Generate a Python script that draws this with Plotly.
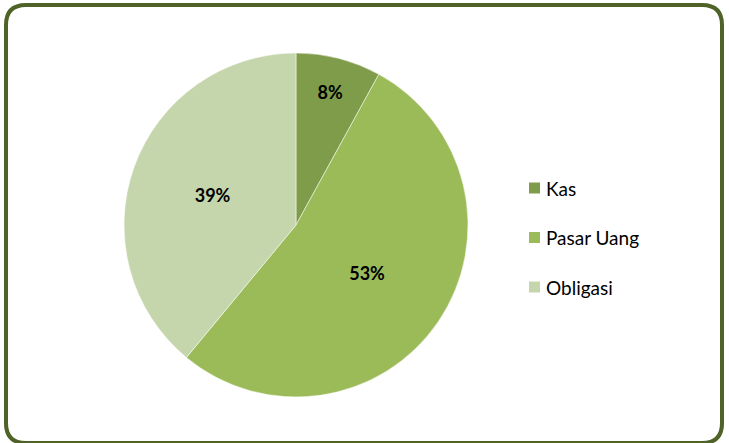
import plotly.graph_objects as go

categories = ["Kas", "Pasar Uang", "Obligasi"]
values = [8, 53, 39]
colors = ["#7F9C4B", "#9BBB59", "#C6D6AC"]

W, H = 729, 443

fig = go.Figure()
fig.add_trace(go.Pie(
    labels=categories, values=values, sort=False, direction="clockwise", rotation=0,
    marker=dict(colors=colors, line=dict(color="white", width=0.5)),
    texttemplate="<b>%{percent:.0%}</b>", textposition="inside", insidetextorientation="horizontal",
    textfont=dict(family="Lato", size=18, color="black"),
    domain=dict(x=[124 / W, 468 / W], y=[(H - 397) / H, (H - 53) / H]),
    showlegend=False, hoverinfo="label+percent",
))

# rounded border
def px(x):
    return x / W

def py(y):
    return (H - y) / H

L, R, T, B, r = 6, 722, 5, 443, 20
path = (f"M {px(L+r)},{py(T)} L {px(R-r)},{py(T)} Q {px(R)},{py(T)} {px(R)},{py(T+r)} "
        f"L {px(R)},{py(B-r)} Q {px(R)},{py(B)} {px(R-r)},{py(B)} "
        f"L {px(L+r)},{py(B)} Q {px(L)},{py(B)} {px(L)},{py(B-r)} "
        f"L {px(L)},{py(T+r)} Q {px(L)},{py(T)} {px(L+r)},{py(T)} Z")
fig.add_shape(type="path", path=path, xref="paper", yref="paper",
              line=dict(color="#4F6228", width=4))

# legend
for i, (cat, col) in enumerate(zip(categories, colors)):
    yc = 188 + i * 49.5
    fig.add_shape(type="rect", xref="paper", yref="paper",
                  x0=px(529), x1=px(540), y0=py(yc + 5.5), y1=py(yc - 5.5),
                  fillcolor=col, line=dict(width=0))
    fig.add_annotation(x=px(544), y=py(yc), xref="paper", yref="paper", text=cat,
                       showarrow=False, xanchor="left", yanchor="middle",
                       font=dict(family="Lato", size=19, color="black"))

fig.update_layout(width=W, height=H, margin=dict(l=0, r=0, t=0, b=0),
                  paper_bgcolor="white", plot_bgcolor="white")
fig.write_html("out.html", config={"displayModeBar": False},
               post_script="document.body.style.margin='0';document.body.style.overflow='hidden';")
